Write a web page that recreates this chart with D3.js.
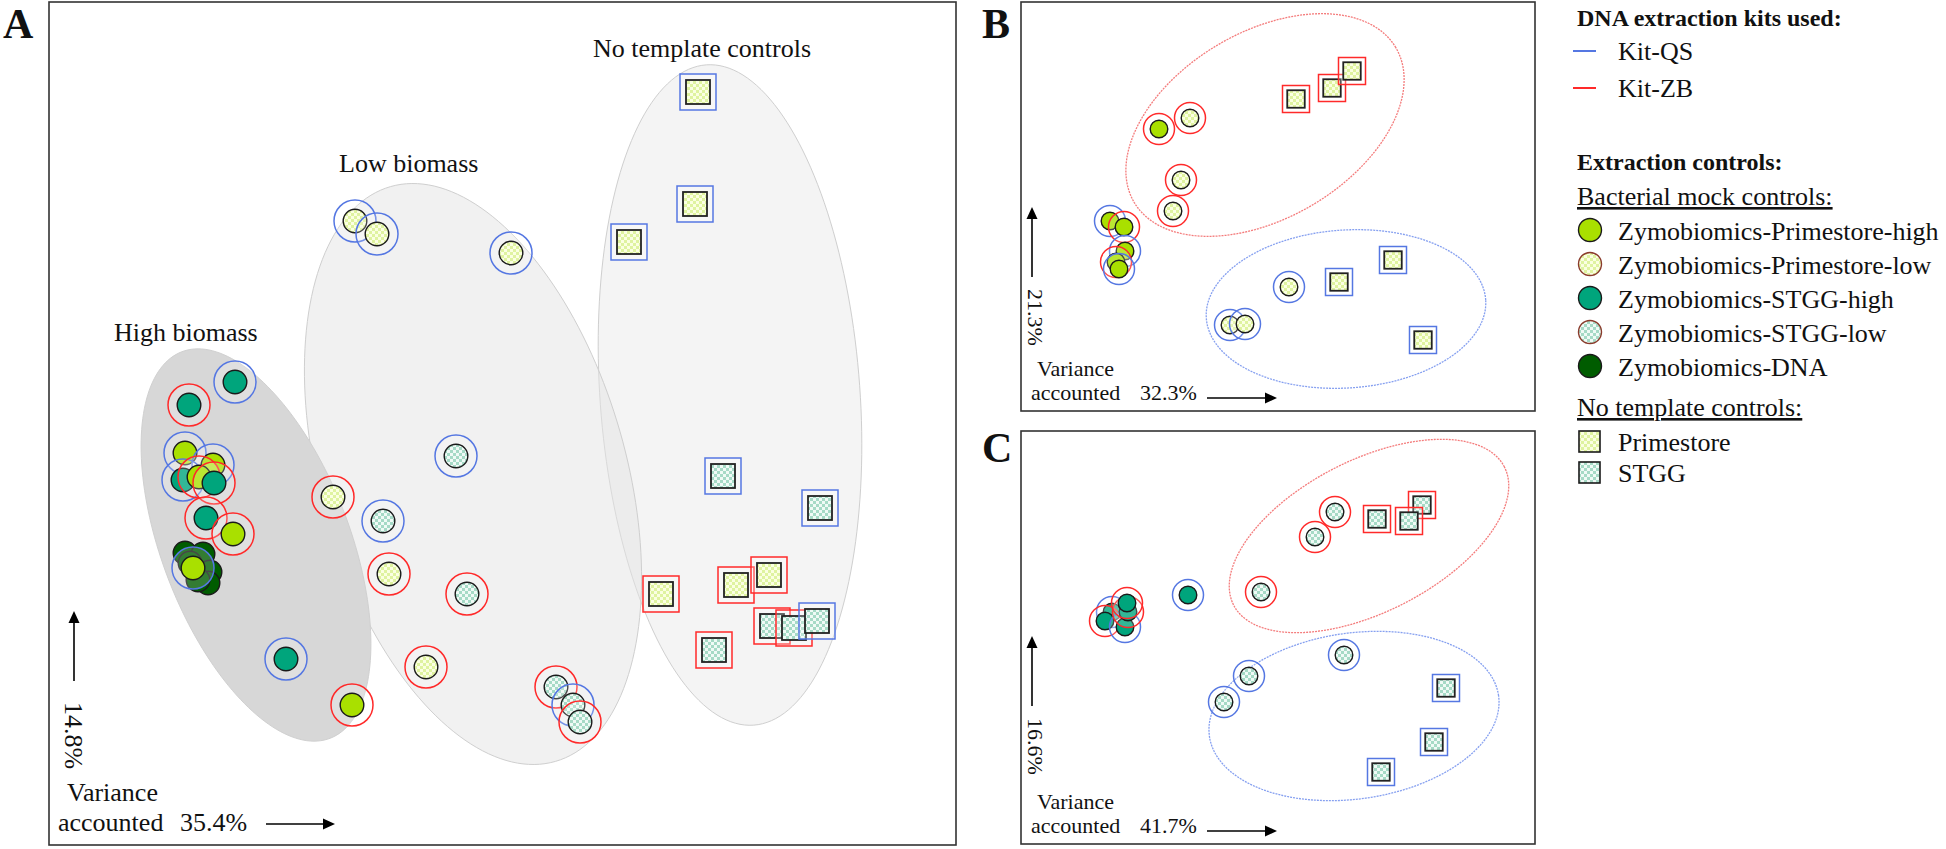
<!DOCTYPE html>
<html><head><meta charset="utf-8">
<script src="https://cdn.jsdelivr.net/npm/d3@7"></script>
<style>
html,body{margin:0;padding:0;background:#fff;}
svg text{font-family:"Liberation Serif","Times New Roman",serif;fill:#111;}
</style></head><body>
<svg id="chart" width="1946" height="849"></svg>
<script>
// ---------------- DATA ----------------
// sample type codes: PH Primestore-high, PL Primestore-low, SH STGG-high, SL STGG-low, DNA Zymobiomics-DNA,
// NP no-template Primestore, NS no-template STGG ; kit: QS / ZB
const kitNames = ["Kit-QS", "Kit-ZB"];
const mockNames = ["Zymobiomics-Primestore-high", "Zymobiomics-Primestore-low", "Zymobiomics-STGG-high", "Zymobiomics-STGG-low", "Zymobiomics-DNA"];
const mockCodes = ["PH", "PL", "SH", "SL", "DNA"];
const ntcNames = ["Primestore", "STGG"];
const ntcCodes = ["NP", "NS"];

// Panel A (all samples) : [type, kit, PCo1, PCo2]
const panelA_NTC = [
  ["NP","QS",64.9,75.3],["NP","QS",64.6,64.1],["NP","QS",58.0,60.3],
  ["NS","QS",67.4,36.9],["NS","QS",77.1,33.7],
  ["NP","ZB",61.2,25.1],["NP","ZB",68.7,26.0],["NP","ZB",72.0,27.0],
  ["NS","ZB",72.3,21.9],["NS","ZB",74.5,21.7],["NS","QS",76.8,22.4],["NS","ZB",66.5,19.5]
];
const panelA_low = [
  ["PL","QS",30.6,62.4],["PL","QS",32.8,61.1],["PL","QS",46.2,59.2],
  ["SL","QS",40.7,38.9],["PL","ZB",28.4,34.8],["SL","QS",33.4,32.4],
  ["PL","ZB",34.0,27.1],["SL","ZB",41.8,25.1],["PL","ZB",37.7,17.8],
  ["SL","ZB",50.7,15.8],["SL","QS",52.4,14.0],["SL","ZB",53.1,12.3]
];
const panelA_high = [
  ["SH","QS",18.6,46.3],["SH","ZB",14.0,44.0],["PH","QS",13.6,39.2],["PH","QS",16.4,38.0],
  ["SH","QS",13.4,36.5],["PH","ZB",15.0,36.8],["SH","ZB",16.5,36.2],["SH","ZB",15.7,32.7],
  ["PH","ZB",18.4,31.1],
  ["DNA",null,13.6,29.2],["DNA",null,15.4,29.1],["DNA",null,16.1,27.3],["DNA",null,15.9,26.2],
  ["DNA",null,14.9,26.5],["DNA",null,14.1,28.2],
  ["PH","QS",14.4,27.7],["SH","QS",23.7,18.6],["PH","ZB",30.3,14.0]
];
// Panel B (Primestore samples)
const panelB_points = [
  ["NP","ZB",27.5,31.2],["NP","ZB",31.1,32.3],["NP","ZB",33.1,34.0],
  ["PH","ZB",13.8,28.2],["PL","ZB",16.9,29.3],["PL","ZB",16.0,23.1],["PL","ZB",15.2,20.0],
  ["PH","QS",8.9,19.0],["PH","ZB",10.3,18.4],["PH","QS",10.4,16.0],["PH","ZB",9.5,14.9],["PH","QS",9.8,14.2],
  ["PL","QS",26.8,12.4],["PL","QS",20.9,8.6],["PL","QS",22.4,8.7],
  ["NP","QS",31.8,12.9],["NP","QS",37.2,15.1],["NP","QS",40.2,7.1]
];
// Panel C (STGG samples)
const panelC_points = [
  ["SL","ZB",31.4,33.2],["SL","ZB",29.4,30.7],["SL","ZB",24.0,25.2],
  ["NS","ZB",40.1,33.9],["NS","ZB",35.6,32.5],["NS","ZB",38.8,32.3],
  ["SH","QS",16.7,24.9],
  ["SH","QS",9.1,23.2],["SH","ZB",8.4,22.3],["SH","QS",10.4,21.7],["SH","ZB",10.7,23.2],["SH","ZB",10.6,24.1],
  ["SL","QS",32.3,18.9],["SL","QS",22.8,16.8],["SL","QS",20.3,14.2],
  ["NS","QS",42.5,15.6],["NS","QS",41.3,10.2],["NS","QS",36.0,7.2]
];
// grouping ellipses: [name, centre PCo1, centre PCo2, semi-axis a, semi-axis b, angle deg]
const ellipsesA = [["NTC",68.1,45.0,33.1,13.0,-85.9],["Low",42.4,37.1,29.9,15.3,-74],["High",20.7,30.0,20.7,9.4,-69]];
const ellipsesB = [["ZB",24.4,28.6,15.2,9.3,30.6],["QS",32.5,10.2,14.0,7.9,3.7]];
const ellipsesC = [["ZB",34.8,30.8,15.2,7.6,27],["QS",33.3,12.8,14.6,8.3,8]];
const groupLabelsA = [["No template controls",54.4,78.8],["Low biomass",29.0,67.3],["High biomass",6.5,50.4]];
const varianceA = ["35.4%","14.8%"];
const varianceB = ["32.3%","21.3%"];
const varianceC = ["41.7%","16.6%"];

// ---------------- STYLE ----------------
const kitColor = {QS:"#5577e2", ZB:"#ff2a2a"};
const svg = d3.select("#chart");
const defs = svg.append("defs");
function checker(id, c1, c2){
  const p = defs.append("pattern").attr("id",id).attr("width",6).attr("height",6).attr("patternUnits","userSpaceOnUse");
  p.append("rect").attr("width",6).attr("height",6).attr("fill",c1);
  p.append("rect").attr("width",3).attr("height",3).attr("fill",c2);
  p.append("rect").attr("x",3).attr("y",3).attr("width",3).attr("height",3).attr("fill",c2);
}
checker("chkP","#fbffe2","#dff3a0");
checker("chkS","#f0faf6","#a6dac6");
const fillFor = {PH:"#a9e000", SH:"#00a57c", DNA:"#005c00", PL:"url(#chkP)", SL:"url(#chkS)", NP:"url(#chkP)", NS:"url(#chkS)"};

function ellipsePts(e){
  const pts=[]; const phi=e[5]*Math.PI/180;
  for(let i=0;i<180;i++){
    const t=i/180*2*Math.PI; const dx=e[3]*Math.cos(t), dy=e[4]*Math.sin(t);
    pts.push([e[1]+dx*Math.cos(phi)-dy*Math.sin(phi), e[2]+dx*Math.sin(phi)+dy*Math.cos(phi)]);
  }
  return pts;
}

function drawPoints(g, data, xs, ys, sz){
  data.forEach(d=>{
    const [type, kit, px, py] = d;
    const cx = xs(px), cy = ys(py);
    if(type==="NP"||type==="NS"){
      g.append("rect").attr("x",cx-sz.so/2).attr("y",cy-sz.so/2).attr("width",sz.so).attr("height",sz.so)
        .attr("fill","#fff").attr("fill-opacity",0.25).attr("stroke",kitColor[kit]).attr("stroke-width",1.5);
      g.append("rect").attr("x",cx-sz.si/2).attr("y",cy-sz.si/2).attr("width",sz.si).attr("height",sz.si)
        .attr("fill",fillFor[type]).attr("stroke","#222").attr("stroke-width",1.8);
    } else {
      if(kit){
        g.append("circle").attr("cx",cx).attr("cy",cy).attr("r",sz.ro)
          .attr("fill","#fff").attr("fill-opacity",0.2).attr("stroke",kitColor[kit]).attr("stroke-width",1.5);
      }
      g.append("circle").attr("cx",cx).attr("cy",cy).attr("r",sz.ri)
        .attr("fill",fillFor[type]).attr("stroke","#1a1a1a").attr("stroke-width",1.4);
    }
  });
}

function arrowUp(g,x,y1,y2){
  g.append("line").attr("x1",x).attr("x2",x).attr("y1",y1+10).attr("y2",y2).attr("stroke","#000").attr("stroke-width",1.6);
  g.append("path").attr("d",`M${x},${y1} L${x-5.5},${y1+12} L${x+5.5},${y1+12} Z`).attr("fill","#000");
}
function arrowRight(g,x1,x2,y){
  g.append("line").attr("x1",x1).attr("x2",x2-10).attr("y1",y).attr("y2",y).attr("stroke","#000").attr("stroke-width",1.6);
  g.append("path").attr("d",`M${x2},${y} L${x2-12},${y-5.5} L${x2-12},${y+5.5} Z`).attr("fill","#000");
}

// ---------------- PANEL A ----------------
const xA = d3.scaleLinear().domain([0,90.7]).range([49,956]);
const yA = d3.scaleLinear().domain([0,84.3]).range([845,2]);
const gA = svg.append("g");
const lineA = d3.line().x(p=>xA(p[0])).y(p=>yA(p[1])).curve(d3.curveLinearClosed);
const ellStyleA = {NTC:{fill:"#e9e9e9",op:0.5,stroke:"#cfcfcf"}, Low:{fill:"#e4e4e4",op:0.5,stroke:"#cfcfcf"}, High:{fill:"#d7d7d7",op:1,stroke:"#d0d0d0"}};
ellipsesA.forEach(e=>{
  const s=ellStyleA[e[0]];
  gA.append("path").attr("d",lineA(ellipsePts(e))).attr("fill",s.fill).attr("fill-opacity",s.op)
    .attr("stroke",s.stroke).attr("stroke-width",1);
});
gA.append("rect").attr("x",xA(0)).attr("y",yA(84.3)).attr("width",xA(90.7)-xA(0)).attr("height",yA(0)-yA(84.3))
  .attr("fill","none").attr("stroke","#333").attr("stroke-width",1.6);
groupLabelsA.forEach(l=>{
  gA.append("text").attr("x",xA(l[1])).attr("y",yA(l[2])).attr("font-size",26).text(l[0]);
});
const szA = {ri:11.8, ro:21, si:24, so:36};
drawPoints(gA, panelA_NTC, xA, yA, szA);
drawPoints(gA, panelA_low, xA, yA, szA);
drawPoints(gA, panelA_high, xA, yA, szA);
arrowUp(gA, 74, 611, 681);
gA.append("text").attr("transform","translate(65,702) rotate(90)").attr("font-size",26).text(varianceA[1]);
gA.append("text").attr("x",67).attr("y",801).attr("font-size",26).text("Variance");
gA.append("text").attr("x",58).attr("y",831).attr("font-size",26).text("accounted");
gA.append("text").attr("x",180).attr("y",831).attr("font-size",26).text(varianceA[0]);
arrowRight(gA, 266, 335, 824);
svg.append("text").attr("x",3).attr("y",38).attr("font-size",42).attr("font-weight","bold").text("A");

// ---------------- PANELS B & C ----------------
function smallPanel(points, ells, variance, top, bottom, letter, yMax){
  const xs = d3.scaleLinear().domain([0,51.4]).range([1021,1535]);
  const ys = d3.scaleLinear().domain([0,yMax]).range([bottom,top]);
  const g = svg.append("g");
  const ln = d3.line().x(p=>xs(p[0])).y(p=>ys(p[1])).curve(d3.curveLinearClosed);
  g.append("rect").attr("x",xs(0)).attr("y",ys(yMax)).attr("width",xs(51.4)-xs(0)).attr("height",ys(0)-ys(yMax))
    .attr("fill","#fff").attr("stroke","#333").attr("stroke-width",1.6);
  const clipId = "clip"+letter;
  defs.append("clipPath").attr("id",clipId).append("rect").attr("x",xs(0)).attr("y",ys(yMax)).attr("width",xs(51.4)-xs(0)).attr("height",ys(0)-ys(yMax));
  ells.forEach(e=>{
    g.append("path").attr("d",ln(ellipsePts(e))).attr("fill","none").attr("clip-path",`url(#${clipId})`)
      .attr("stroke", e[0]==="ZB" ? "#f47c7c" : "#86a0f0").attr("stroke-width",1.3).attr("stroke-dasharray","2,1");
  });
  drawPoints(g, points, xs, ys, {ri:8.8, ro:15.5, si:17.5, so:27});
  arrowUp(g, 1032, top+205, top+275);
  g.append("text").attr("transform",`translate(1028,${top+287}) rotate(90)`).attr("font-size",22).text(variance[1]);
  g.append("text").attr("x",1037).attr("y",bottom-35).attr("font-size",22).text("Variance");
  g.append("text").attr("x",1031).attr("y",bottom-11).attr("font-size",22).text("accounted");
  g.append("text").attr("x",1140).attr("y",bottom-11).attr("font-size",22).text(variance[0]);
  arrowRight(g, 1207, 1277, bottom-13);
  svg.append("text").attr("x",982).attr("y",top+(top<10?36:31)).attr("font-size",42).attr("font-weight","bold").text(letter);
}
smallPanel(panelB_points, ellipsesB, varianceB, 2, 411, "B", 40.9);
smallPanel(panelC_points, ellipsesC, varianceC, 431, 844, "C", 41.3);

// ---------------- LEGEND ----------------
const lg = svg.append("g");
lg.append("text").attr("x",1577).attr("y",26).attr("font-size",24).attr("font-weight","bold").text("DNA extraction kits used:");
kitNames.forEach((k,i)=>{
  const y = 51 + i*37;
  lg.append("line").attr("x1",1573).attr("x2",1596).attr("y1",y).attr("y2",y).attr("stroke",kitColor[k.slice(4)]).attr("stroke-width",2);
  lg.append("text").attr("x",1618).attr("y",y+9).attr("font-size",26).text(k);
});
lg.append("text").attr("x",1577).attr("y",170).attr("font-size",24).attr("font-weight","bold").text("Extraction controls:");
lg.append("text").attr("x",1577).attr("y",205).attr("font-size",26).attr("text-decoration","underline").text("Bacterial mock controls:");
mockNames.forEach((m,i)=>{
  const y = 230 + i*34;
  const code = mockCodes[i];
  lg.append("circle").attr("cx",1590).attr("cy",y).attr("r",11.5).attr("fill",fillFor[code])
    .attr("stroke", (code==="PL"||code==="SL") ? "#8a3b2c" : "#1a1a1a").attr("stroke-width",1.4);
  lg.append("text").attr("x",1618).attr("y",y+9.5).attr("font-size",26).text(m);
});
lg.append("text").attr("x",1577).attr("y",416).attr("font-size",26).attr("text-decoration","underline").text("No template controls:");
ntcNames.forEach((n,i)=>{
  const y = 441.5 + i*31;
  lg.append("rect").attr("x",1579).attr("y",y-10.5).attr("width",21).attr("height",21).attr("fill",fillFor[ntcCodes[i]])
    .attr("stroke","#1a1a1a").attr("stroke-width",1.6);
  lg.append("text").attr("x",1618).attr("y",y+9).attr("font-size",26).text(n);
});
</script>
</body></html>
